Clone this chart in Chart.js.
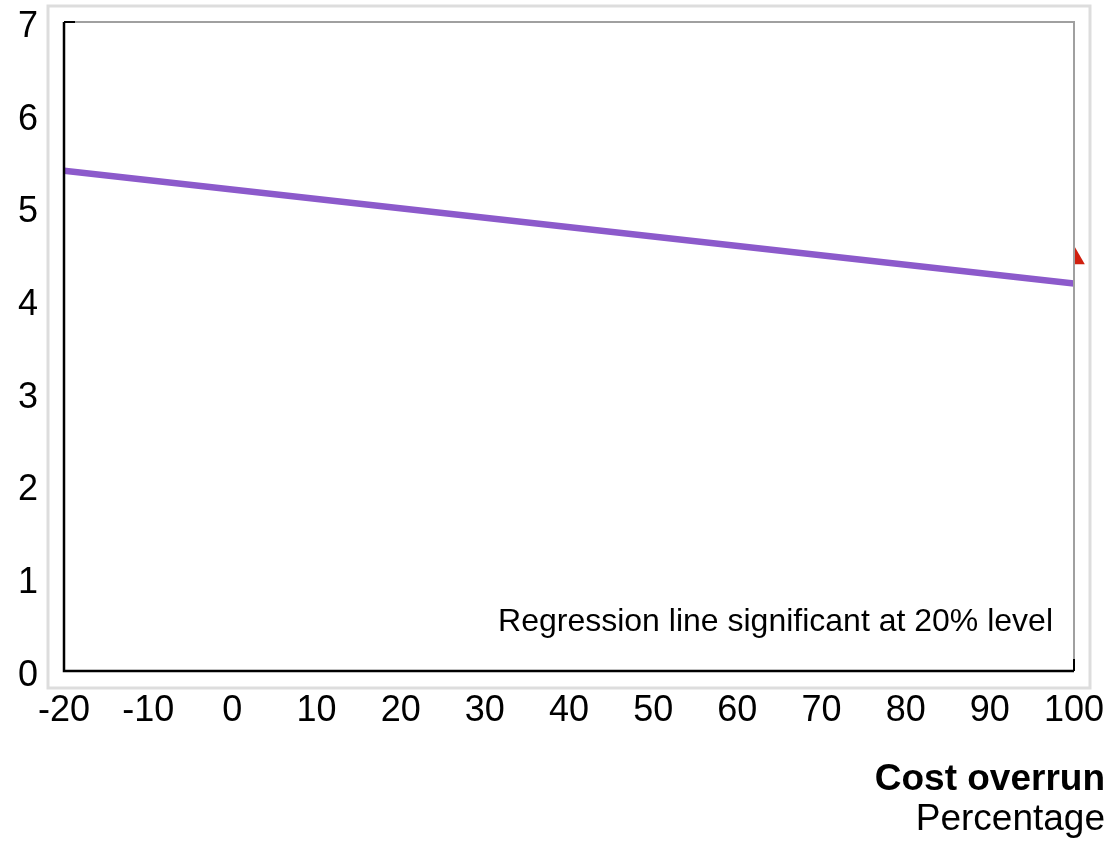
<!DOCTYPE html>
<html>
<head>
<meta charset="utf-8">
<script src="https://cdn.jsdelivr.net/npm/chart.js@4.4.1/dist/chart.umd.min.js"></script>
<style>
  html, body { margin: 0; padding: 0; background: #ffffff; }
  #wrap { width: 1111px; height: 841px; position: relative; }
</style>
</head>
<body>
<div id="wrap"><canvas id="c" width="1111" height="841"></canvas></div>
<script>
// Regression line: cost overrun (%) vs. score
const lineX = [-20, 100];
const lineY = [5.396, 4.18];
// Single observation marker sitting on the right edge of the plot
const markerX = [100];
const markerY = [4.455];
// Axis ticks
const xTicks = [-20, -10, 0, 10, 20, 30, 40, 50, 60, 70, 80, 90, 100];
const yTicks = [0, 1, 2, 3, 4, 5, 6, 7];
// Texts
const noteText = 'Regression line significant at 20% level';
const xTitle = 'Cost overrun';
const xSubtitle = 'Percentage';

const FONT = '"Liberation Sans", Arial, sans-serif';

const framePlugin = {
  id: 'frame',
  beforeDraw(chart) {
    const ctx = chart.ctx;
    ctx.save();
    // light outer frame
    ctx.strokeStyle = '#dddddd';
    ctx.lineWidth = 3;
    ctx.strokeRect(48, 6, 1042, 682);
    ctx.restore();
  },
  beforeDatasetDraw(chart, args) {
    if (args.index === 1) {
      const ctx = chart.ctx;
      const a = chart.chartArea;
      ctx.save();
      ctx.beginPath();
      ctx.rect(a.right, 0, chart.width - a.right, chart.height);
      ctx.clip();
    }
  },
  afterDatasetDraw(chart, args) {
    if (args.index === 1) chart.ctx.restore();
  },
  afterDraw(chart) {
    const ctx = chart.ctx;
    const a = chart.chartArea;
    ctx.save();
    // top and right plot edges
    ctx.lineWidth = 2;
    ctx.strokeStyle = '#a0a0a0';
    ctx.beginPath();
    ctx.moveTo(a.left, a.top);
    ctx.lineTo(a.right, a.top);
    ctx.lineTo(a.right, a.bottom);
    ctx.stroke();
    // end ticks
    ctx.strokeStyle = '#000000';
    ctx.beginPath();
    ctx.moveTo(a.left, a.top);
    ctx.lineTo(a.left + 11, a.top);
    ctx.moveTo(a.right, a.bottom);
    ctx.lineTo(a.right, a.bottom - 12);
    ctx.stroke();
    // left and bottom axes
    ctx.lineWidth = 2.5;
    ctx.beginPath();
    ctx.moveTo(a.left, a.top);
    ctx.lineTo(a.left, a.bottom);
    ctx.lineTo(a.right, a.bottom);
    ctx.stroke();
    // note inside plot
    ctx.fillStyle = '#000000';
    ctx.font = '32px ' + FONT;
    ctx.textAlign = 'right';
    ctx.textBaseline = 'middle';
    ctx.fillText(noteText, a.right - 21, 622);
    // axis title block, right aligned
    ctx.font = 'bold 37px ' + FONT;
    ctx.fillText(xTitle, 1105, 780);
    ctx.font = '37px ' + FONT;
    ctx.fillText(xSubtitle, 1105, 820);
    ctx.restore();
  }
};

function noEdgePadding(scale) {
  scale.paddingLeft = 0;
  scale.paddingRight = 0;
  scale.paddingTop = 0;
  scale.paddingBottom = 0;
}

new Chart(document.getElementById('c'), {
  type: 'scatter',
  data: {
    datasets: [
      {
        data: lineX.map((x, i) => ({ x, y: lineY[i] })),
        showLine: true,
        borderColor: '#8c5acb',
        borderWidth: 6.5,
        pointRadius: 0,
        fill: false
      },
      {
        data: markerX.map((x, i) => ({ x, y: markerY[i] })),
        pointStyle: 'triangle',
        pointRadius: 12.5,
        pointBackgroundColor: '#d0200f',
        pointBorderWidth: 0,
        clip: false
      }
    ]
  },
  options: {
    responsive: false,
    animation: false,
    events: [],
    layout: { padding: { left: 0, top: 22, right: 37, bottom: 0 } },
    plugins: { legend: { display: false }, tooltip: { enabled: false } },
    scales: {
      x: {
        type: 'linear',
        min: -20,
        max: 100,
        grid: { display: false, drawTicks: false },
        border: { display: false },
        afterBuildTicks(scale) { scale.ticks = xTicks.map(v => ({ value: v })); },
        afterFit(scale) { scale.height = 170; noEdgePadding(scale); },
        ticks: {
          color: '#000000',
          padding: 18,
          maxRotation: 0,
          autoSkip: false,
          font: { family: FONT, size: 36 }
        }
      },
      y: {
        type: 'linear',
        min: 0,
        max: 7,
        grid: { display: false, drawTicks: false },
        border: { display: false },
        afterBuildTicks(scale) { scale.ticks = yTicks.map(v => ({ value: v })); },
        afterFit(scale) { scale.width = 64; noEdgePadding(scale); },
        ticks: {
          color: '#000000',
          padding: 26,
          labelOffset: 5,
          autoSkip: false,
          font: { family: FONT, size: 36 }
        }
      }
    }
  },
  plugins: [framePlugin]
});
</script>
</body>
</html>
